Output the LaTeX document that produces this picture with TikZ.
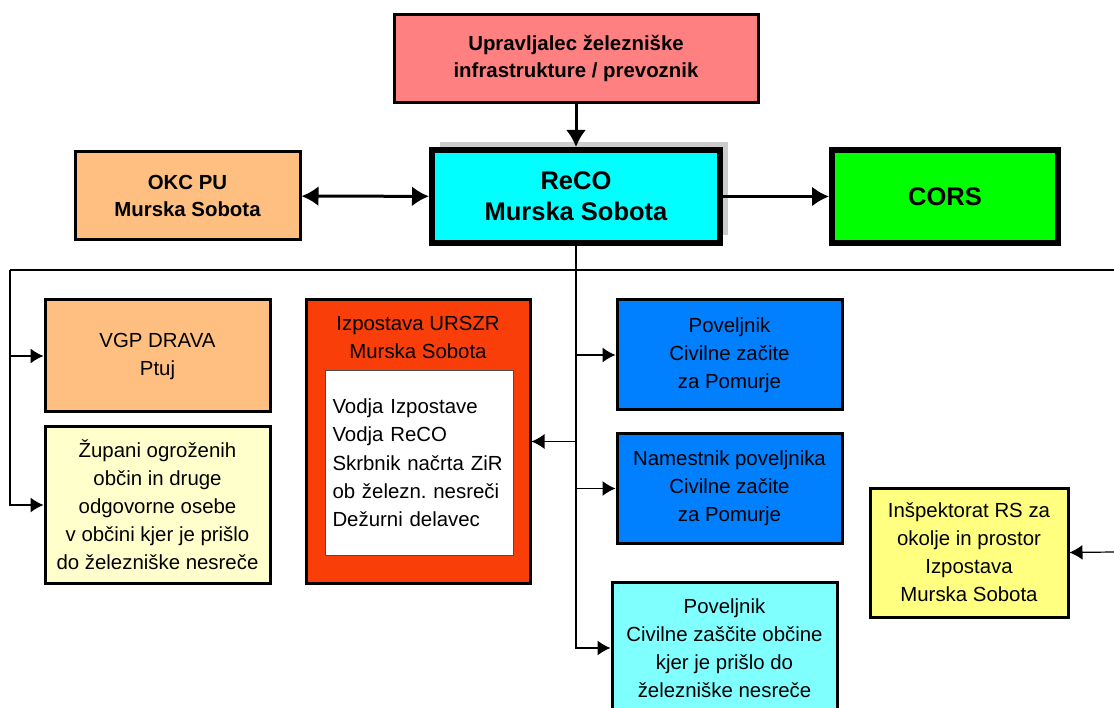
\documentclass[tikz,border=0pt]{standalone}
\usepackage{fontspec}
\setmainfont{Liberation Sans}
\usetikzlibrary{arrows.meta,shadows}

\definecolor{uprpink}{HTML}{FF8080}
\definecolor{okcorange}{HTML}{FFBF80}
\definecolor{recocyan}{HTML}{00FFFF}
\definecolor{corsgreen}{HTML}{00FF00}
\definecolor{zupyellow}{HTML}{FFFFCC}
\definecolor{izpred}{RGB}{250,62,10}
\definecolor{czblue}{HTML}{0080FF}
\definecolor{czcyan}{HTML}{80FFFF}
\definecolor{inspyellow}{HTML}{FFFF80}

\begin{document}
\begin{tikzpicture}[x=1pt, y=-1pt, >=Latex,
	box/.style={draw, line width=3pt, align=center, inner sep=0pt,
		font=\fontsize{20.4}{28}\selectfont},
	boldbox/.style={box, font=\fontsize{20.4}{27}\selectfont\bfseries},
	mainbox/.style={box, line width=6pt, font=\fontsize{25.5}{31}\selectfont\bfseries},
	thick arrow/.style={line width=3pt, -{Latex[length=17pt, width=20pt]}},
	both arrow/.style={line width=3pt, {Latex[length=17pt, width=20pt]}-{Latex[length=17pt, width=20pt]}},
	thin arrow/.style={line width=1.2pt, -{Latex[length=13pt, width=15pt]}}]
		\useasboundingbox (0,0) rectangle (1114,708);
		\clip (0,0) rectangle (1114,708);
		
		% Top row
		\node[boldbox, fill=uprpink, minimum width=364, minimum height=88] (upr) at (576,59)
			{Upravljalec železniške\\infrastrukture / prevoznik};
		\node[mainbox, fill=recocyan, minimum width=288, minimum height=93,
			drop shadow={shadow xshift=8pt, shadow yshift=8pt, fill=black!40}] (reco) at (576,196.5)
			{ReCO\\Murska Sobota};
		\node[boldbox, fill=okcorange, minimum width=225, minimum height=88] (okc) at (187.5,196)
			{OKC PU\\Murska Sobota};
		\node[mainbox, fill=corsgreen, minimum width=226, minimum height=93] (cors) at (945,196.5)
			{CORS};
		
		% Thick arrows
		\draw[thick arrow] (upr) -- (reco);
		\draw[both arrow] (okc) -- (reco);
		\draw[thick arrow] (reco) -- (cors);
		
		% Left column
		\node[box, fill=okcorange, minimum width=225, minimum height=112] (vgp) at (157.5,356)
			{VGP DRAVA\\Ptuj};
		\node[box, fill=zupyellow, minimum width=225, minimum height=156] (zup) at (157.5,505)
			{Župani ogroženih\\občin in druge\\odgovorne osebe\\v občini kjer je prišlo\\do železniške nesreče};
		
		% Izpostava URSZR
		\node[box, fill=izpred, minimum width=224, minimum height=283] (izp) at (418,441.5) {};
		\node[font=\fontsize{20.4}{28}\selectfont, align=center, inner sep=0pt] (izptitle) at (418,337)
			{Izpostava URSZR\\Murska Sobota};
		\node[draw=black!70, line width=1pt, fill=white, minimum width=188, minimum height=185,
			inner sep=7pt, align=left, anchor=north west, text width=174,
			font=\fontsize{20.4}{28.3}\selectfont] (izpin) at (325,370)
			{Vodja Izpostave\\Vodja ReCO\\Skrbnik načrta ZiR\\ob železn.\ nesreči\\Dežurni delavec\\[10pt]};
		
		% Right column
		\node[box, fill=czblue, minimum width=225, minimum height=110] (pov) at (729.5,355)
			{Poveljnik\\Civilne začite\\za Pomurje};
		\node[box, fill=czblue, minimum width=225, minimum height=109] (nam) at (729.5,488.5)
			{Namestnik poveljnika\\Civilne začite\\za Pomurje};
		\node[box, fill=czcyan, minimum width=225, minimum height=132] (povob) at (724.5,648)
			{Poveljnik\\Civilne zaščite občine\\kjer je prišlo do\\železniške nesreče};
		\node[box, fill=inspyellow, minimum width=198, minimum height=129] (insp) at (969,552.5)
			{Inšpektorat RS za\\okolje in prostor\\Izpostava\\Murska Sobota};
		
		% Thin connectors
		\coordinate (busL) at (10,270);
		\coordinate (busR) at (1114,270);
		\coordinate (inspR) at (1114,552);
		\draw[line width=1.2pt] (busL) -- (busR);
		\draw[thin arrow] (busL) |- (zup.west);
		\draw[thin arrow] (busL |- vgp.west) -- (vgp.west);
		\draw[thin arrow] (reco.south) |- (povob.west);
		\foreach \b in {pov,nam} {
			\draw[thin arrow] (reco.south |- \b.west) -- (\b.west);
		}
		\draw[thin arrow] (reco.south |- izp.east) -- (izp.east);
		\draw[thin arrow] (inspR) -- (insp.east);
		
	\end{tikzpicture}
\end{document}
